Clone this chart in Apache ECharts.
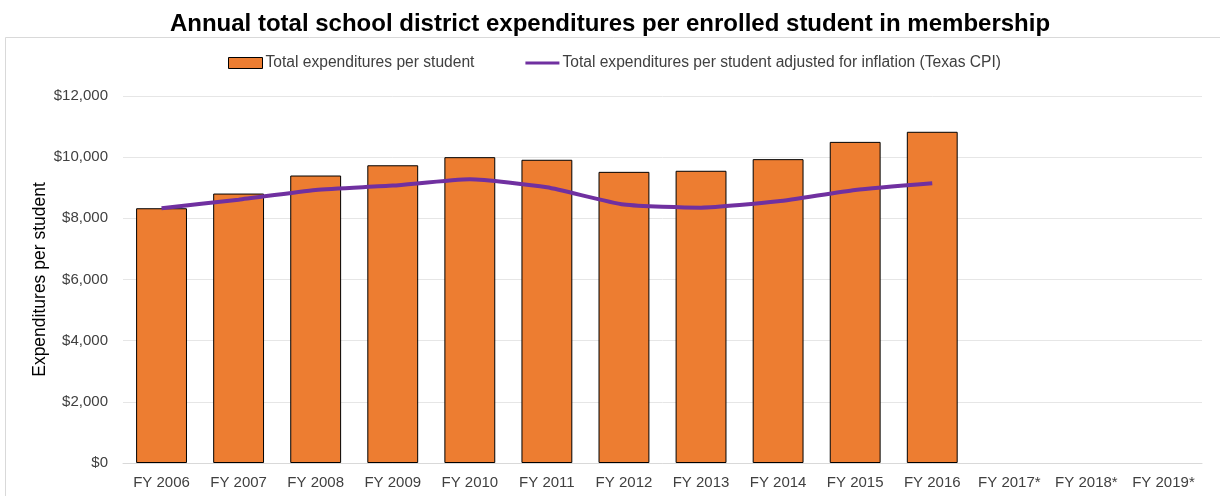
<!DOCTYPE html>
<html>
<head>
<meta charset="utf-8">
<script src="https://cdn.jsdelivr.net/npm/echarts@6/dist/echarts.min.js"></script>
<style>
html,body{margin:0;padding:0;background:#fff;}
#c{width:1220px;height:496px;}
</style>
</head>
<body>
<div id="c"></div>
<script>
const categories = ['FY 2006','FY 2007','FY 2008','FY 2009','FY 2010','FY 2011','FY 2012','FY 2013','FY 2014','FY 2015','FY 2016','FY 2017*','FY 2018*','FY 2019*'];
const totalExpenditures = [8330, 8810, 9400, 9735, 10000, 9915, 9520, 9555, 9935, 10500, 10830, null, null, null];
const adjustedForInflation = [8330, 8610, 8930, 9070, 9280, 9015, 8450, 8350, 8555, 8930, 9150, null, null, null];
const yTicks = [0, 2000, 4000, 6000, 8000, 10000, 12000];

const chart = echarts.init(document.getElementById('c'), null, {renderer: 'canvas'});
const font = '"Liberation Sans", Arial, sans-serif';
chart.setOption({
  animation: false,
  backgroundColor: '#fff',
  title: {
    text: 'Annual total school district expenditures per enrolled student in membership',
    left: 'center', top: 7,
    textStyle: {fontFamily: font, fontSize: 24, fontWeight: 'bold', color: '#000'}
  },
  graphic: [{
    type: 'rect', shape: {x: 5.5, y: 37.5, width: 1230, height: 470},
    style: {fill: 'none', stroke: '#d9d9d9', lineWidth: 1}, silent: true
  }],
  legend: {
    left: 223, top: 50,
    itemWidth: 34, itemHeight: 11, itemGap: 51,
    textStyle: {fontFamily: font, fontSize: 15.6, color: '#404040', padding: [0,0,0,-2]},
    data: [
      {name: 'Total expenditures per student', icon: 'rect', itemStyle: {color: '#ED7D31', borderColor: '#000', borderWidth: 1}},
      {name: 'Total expenditures per student adjusted for inflation (Texas CPI)', icon: 'path://M0,4 L34,4 L34,7 L0,7 Z', itemStyle: {color: '#7030A0', borderWidth: 0}}
    ]
  },
  grid: {left: 123, right: 18, top: 96, bottom: 33, containLabel: false},
  xAxis: {
    type: 'category', data: categories,
    axisLine: {show: true, lineStyle: {color: '#d9d9d9', width: 1}},
    axisTick: {show: false},
    axisLabel: {fontFamily: font, fontSize: 15, color: '#404040', margin: 12, interval: 0}
  },
  yAxis: {
    type: 'value', min: yTicks[0], max: yTicks[yTicks.length - 1], interval: 2000,
    name: 'Expenditures per student', nameLocation: 'middle', nameGap: 74, nameMoveOverlap: false,
    nameTextStyle: {fontFamily: font, fontSize: 17.5, color: '#000'},
    axisLine: {show: false}, axisTick: {show: false},
    splitLine: {lineStyle: {color: '#e6e6e6', width: 1}},
    axisLabel: {fontFamily: font, fontSize: 15, color: '#404040', margin: 15,
      formatter: v => '$' + v.toLocaleString('en-US')}
  },
  series: [
    {
      name: 'Total expenditures per student', type: 'bar', data: totalExpenditures,
      barCategoryGap: '34%',
      itemStyle: {color: '#ED7D31', borderColor: '#000', borderWidth: 1}
    },
    {
      name: 'Total expenditures per student adjusted for inflation (Texas CPI)', type: 'line', data: adjustedForInflation,
      smooth: 0.18, showSymbol: false, symbol: 'none',
      lineStyle: {color: '#7030A0', width: 4},
      itemStyle: {color: '#7030A0'}
    }
  ]
});
</script>
</body>
</html>
